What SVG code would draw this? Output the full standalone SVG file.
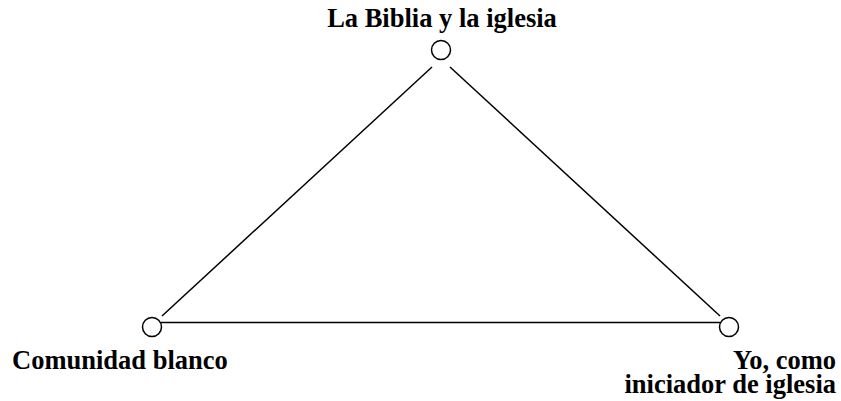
<svg xmlns="http://www.w3.org/2000/svg" width="841" height="401" viewBox="0 0 841 401">
<style>
text{font-family:'Liberation Serif','Times New Roman',Times,serif;font-weight:700;font-size:26.5px;fill:#000}
.node circle{fill:#fff;stroke:#000;stroke-width:1.5}
.edges line{stroke:#000;stroke-width:1.5}
</style>
<rect width="841" height="401" fill="#fff"/>
<g class="edges" id="connectors">
<line x1="162" y1="316" x2="432" y2="67"/>
<line x1="450" y1="67" x2="720" y2="316"/>
<line x1="161" y1="322.5" x2="720" y2="322.5"/>
</g>
<g class="node" id="biblia">
<circle cx="441" cy="50" r="9.5"/>
<text x="442" y="27" text-anchor="middle">La Biblia y la iglesia</text>
</g>
<g class="node" id="comunidad">
<circle cx="152" cy="327" r="9.5"/>
<text x="12" y="369">Comunidad blanco</text>
</g>
<g class="node" id="yo">
<circle cx="729" cy="327" r="9.5"/>
<text text-anchor="end"><tspan x="836" y="369">Yo, como</tspan><tspan x="836" y="393">iniciador de iglesia</tspan></text>
</g>
</svg>
